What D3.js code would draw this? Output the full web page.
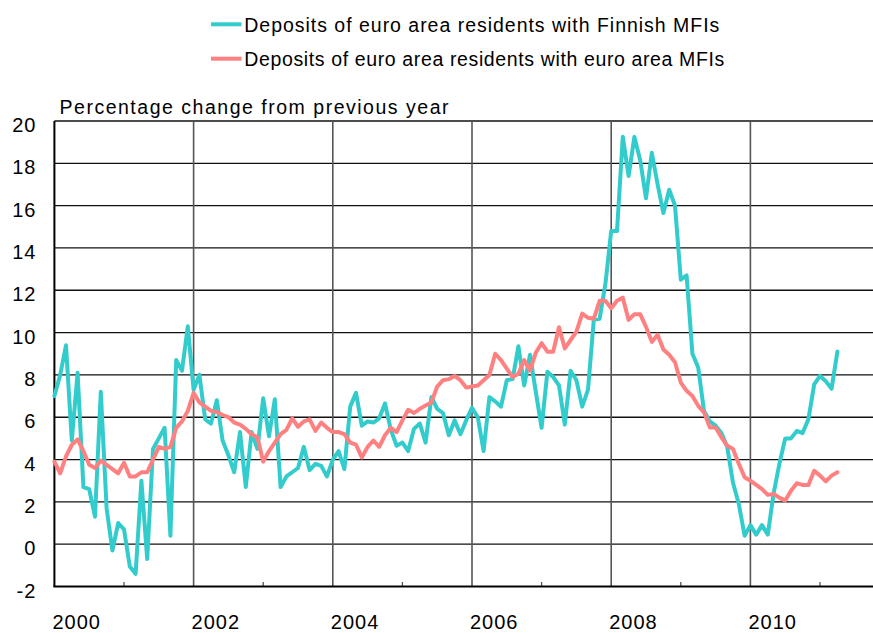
<!DOCTYPE html>
<html><head><meta charset="utf-8">
<script src="https://cdn.jsdelivr.net/npm/d3@7"></script>
<style>
html,body{margin:0;padding:0;background:#fff;}
svg{display:block;}
text{font-family:"Liberation Sans",Arial,sans-serif;fill:#000;}
</style></head><body>
<svg id="c" width="873" height="633"></svg>
<script>
// ---- data (monthly, starting January 2000) ----
const startYear = 2000;
const seriesNames = [
  "Deposits of euro area residents with Finnish MFIs",
  "Deposits of euro area residents with euro area MFIs"
];
const finnish = [
  7.0, 8.0, 9.4, 4.9, 8.1, 2.7, 2.6, 1.3, 7.2, 1.7, -0.3, 1.0,
  0.7, -1.05, -1.4, 3.0, -0.7, 4.5, 5.0, 5.5, 0.4, 8.7, 8.2, 10.3,
  7.3, 8.0, 5.9, 5.7, 6.8, 4.9, 4.2, 3.4, 5.3, 2.7, 5.3, 4.5,
  6.9, 5.1, 6.85, 2.7, 3.2, 3.4, 3.6, 4.6, 3.5, 3.8, 3.7, 3.2,
  4.0, 4.4, 3.55, 6.5, 7.15, 5.6, 5.8, 5.75, 5.95, 6.65, 5.4, 4.65,
  4.8, 4.4, 5.45, 5.7, 4.8, 6.95, 6.4, 6.2, 5.15, 5.85, 5.2, 5.85,
  6.45, 6.0, 4.4, 6.95, 6.75, 6.5, 7.75, 7.8, 9.35, 7.5, 8.95, 7.2,
  5.5, 8.15, 7.9, 7.5, 5.65, 8.2, 7.75, 6.5, 7.3, 10.6, 10.65, 12.3,
  14.8, 14.8, 19.25, 17.4, 19.25, 18.15, 16.35, 18.5, 17.0, 15.65, 16.75, 16.0,
  12.5, 12.7, 9.0, 8.35, 6.3, 5.8, 5.6, 5.25, 4.6, 2.9, 1.9, 0.4,
  0.9, 0.45, 0.9, 0.45, 2.4, 3.8, 5.0, 5.0, 5.35, 5.25, 5.9, 7.55,
  7.95, 7.7, 7.35, 9.1
];
const euroArea = [
  3.9, 3.35, 4.15, 4.7, 4.95, 4.4, 3.75, 3.6, 3.95, 3.75, 3.55, 3.35,
  3.85, 3.2, 3.2, 3.4, 3.4, 4.0, 4.6, 4.5, 4.6, 5.5, 5.8, 6.3,
  7.15, 6.7, 6.5, 6.3, 6.25, 6.1, 6.0, 5.75, 5.65, 5.45, 5.2, 5.05,
  3.9, 4.4, 4.8, 5.2, 5.4, 5.95, 5.55, 5.8, 5.9, 5.35, 5.75, 5.5,
  5.3, 5.3, 5.2, 4.8, 4.7, 4.1, 4.6, 4.9, 4.6, 5.15, 5.5, 5.3,
  5.85, 6.35, 6.2, 6.4, 6.55, 6.7, 7.45, 7.75, 7.8, 7.95, 7.75, 7.4,
  7.45, 7.5, 7.75, 8.0, 9.0, 8.7, 8.3, 7.9, 8.05, 8.7, 8.2, 9.05,
  9.5, 9.1, 9.1, 10.25, 9.25, 9.65, 10.05, 10.9, 10.7, 10.65, 11.5, 11.5,
  11.15, 11.5, 11.65, 10.6, 10.87, 10.87, 10.27, 9.56, 9.9, 9.2, 8.95, 8.6,
  7.64, 7.25, 7.0, 6.54, 6.23, 5.52, 5.52, 5.05, 4.65, 4.5, 3.8, 3.16,
  3.0, 2.8, 2.6, 2.33, 2.37, 2.2, 2.06, 2.53, 2.88, 2.8, 2.8, 3.47,
  3.24, 2.97, 3.24, 3.4
];
const yTicks = [-2, 0, 2, 4, 6, 8, 10, 12, 14, 16, 18, 20];
const xLabelYears = [2000, 2002, 2004, 2006, 2008, 2010];
const xGridYears = [2002, 2004, 2006, 2008, 2010];
const xTickYears = [2001, 2003, 2005, 2007, 2009, 2011];
const yTitle = "Percentage change from previous year";
const colors = ["#33CCCC", "#FF8080"];

(function () {
  // ---- layout ----
  const pLeft = 54.4, pTop = 121, pBottom = 586.5, pRight = 873;
  const svg = d3.select("#c");

  const x = d3.scaleLinear().domain([2000, 2012]).range([pLeft, pLeft + 69.6 * 12]);
  const y = d3.scaleLinear().domain([-2, 20]).range([pBottom, pTop]);

  // horizontal gridlines
  svg.append("g").selectAll("line")
    .data(yTicks.filter(v => v > -2))
    .join("line")
    .attr("x1", pLeft).attr("x2", pRight)
    .attr("y1", d => y(d)).attr("y2", d => y(d))
    .attr("stroke", "#111").attr("stroke-width", 1.3);

  // vertical gridlines
  svg.append("g").selectAll("line")
    .data(xGridYears)
    .join("line")
    .attr("x1", d => x(d)).attr("x2", d => x(d))
    .attr("y1", pTop).attr("y2", pBottom)
    .attr("stroke", "#555").attr("stroke-width", 1.6);

  // minor ticks on the x axis (inside)
  svg.append("g").selectAll("line")
    .data(xTickYears)
    .join("line")
    .attr("x1", d => x(d)).attr("x2", d => x(d))
    .attr("y1", pBottom - 4.5).attr("y2", pBottom)
    .attr("stroke", "#555").attr("stroke-width", 1.3);

  // axis lines
  svg.append("line").attr("x1", pLeft).attr("x2", pLeft).attr("y1", pTop).attr("y2", pBottom)
    .attr("stroke", "#000").attr("stroke-width", 2);
  svg.append("line").attr("x1", pLeft - 1).attr("x2", pRight).attr("y1", pBottom).attr("y2", pBottom)
    .attr("stroke", "#000").attr("stroke-width", 2);

  // y axis labels
  const yAxis = svg.append("g").attr("transform", `translate(${pLeft},0)`)
    .call(d3.axisLeft(y).tickValues(yTicks).tickSize(0).tickPadding(18).tickFormat(d => String(d)));
  yAxis.select(".domain").remove();
  yAxis.selectAll("text")
    .attr("dy", "10.6px")
    .style("font-size", "20px")
    .style("letter-spacing", "1px")
    .style("font-family", '"Liberation Sans",Arial,sans-serif')
    .attr("fill", "#000");

  // x axis labels
  const xAxis = svg.append("g").attr("transform", `translate(0,${pBottom})`)
    .call(d3.axisBottom(x).tickValues(xLabelYears).tickSize(0).tickFormat(d => String(d)));
  xAxis.select(".domain").remove();
  xAxis.selectAll("text")
    .attr("y", 0).attr("dy", "42px")
    .attr("x", -2.5)
    .attr("text-anchor", "start")
    .style("font-size", "20px")
    .style("letter-spacing", "1px")
    .style("font-family", '"Liberation Sans",Arial,sans-serif')
    .attr("fill", "#000");

  // series lines
  const line = d3.line()
    .x((d, i) => x(startYear + i / 12))
    .y(d => y(d));

  svg.append("path").datum(finnish)
    .attr("d", line).attr("fill", "none")
    .attr("stroke", colors[0]).attr("stroke-width", 4)
    .attr("stroke-linejoin", "round").attr("stroke-linecap", "round");
  svg.append("path").datum(euroArea)
    .attr("d", line).attr("fill", "none")
    .attr("stroke", colors[1]).attr("stroke-width", 4)
    .attr("stroke-linejoin", "round").attr("stroke-linecap", "round");

  // title
  svg.append("text")
    .attr("x", 59.5).attr("y", 114)
    .attr("textLength", 389).attr("lengthAdjust", "spacing")
    .style("font-size", "19.5px")
    .text(yTitle);

  // legend
  const legendRows = [
    { name: seriesNames[0], color: colors[0], y: 24.3, len: 475 },
    { name: seriesNames[1], color: colors[1], y: 58.7, len: 480 }
  ];
  const lg = svg.append("g");
  legendRows.forEach(r => {
    lg.append("line")
      .attr("x1", 211).attr("x2", 241.5)
      .attr("y1", r.y).attr("y2", r.y)
      .attr("stroke", r.color).attr("stroke-width", 4);
    lg.append("text")
      .attr("x", 244.3).attr("y", r.y + 7.2)
      .attr("textLength", r.len).attr("lengthAdjust", "spacing")
      .style("font-size", "19.5px")
      .text(r.name);
  });
})();
</script>
</body></html>
